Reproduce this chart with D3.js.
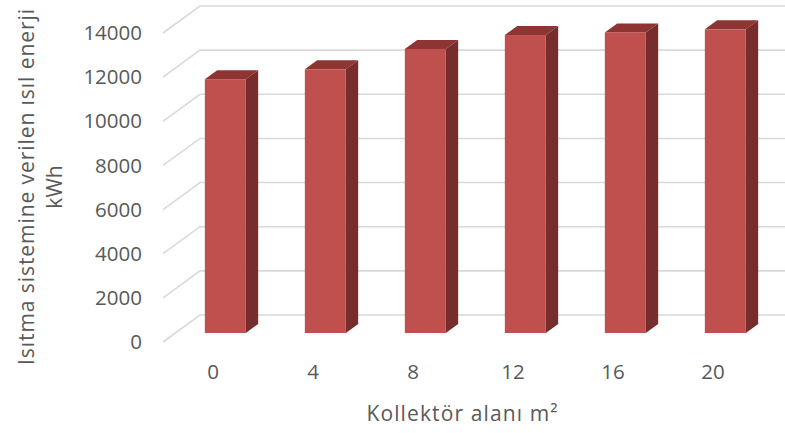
<!DOCTYPE html>
<html>
<head>
<meta charset="utf-8">
<script src="https://cdn.jsdelivr.net/npm/d3@7/dist/d3.min.js"></script>
<style>
  html, body { margin: 0; padding: 0; background: #ffffff; }
  svg { display: block; }
  text { font-family: "Open Sans", "DejaVu Sans", sans-serif; fill: #595959; }
</style>
</head>
<body>
<svg id="chart" width="785" height="433"></svg>
<script>
// Collector area (m²) and the heat delivered to the heating system (kWh)
const categories = ["0", "4", "8", "12", "16", "20"];
const energy = [11500, 11950, 12870, 13500, 13620, 13760];
const yTicks = [0, 2000, 4000, 6000, 8000, 10000, 12000, 14000];
const xTitle = "Kollektör alanı m²";
const yTitleLines = ["Isıtma sistemine verilen ısıl enerji", "kWh"];

const svg = d3.select("#chart");

// Front plane of the 3D plot box
const x = d3.scaleBand().domain(categories).range([163, 763]).paddingInner(0.59).paddingOuter(0.295);
const y = d3.scaleLinear().domain([0, 14000]).range([342, 33]);

// Depth of the box: offset from the front plane to the back wall
const depth = { dx: 37, dy: -27 };
// Bars sit in the middle third of the depth
const barFront = { dx: depth.dx / 3, dy: depth.dy / 3 };
const barBack = { dx: depth.dx * 2 / 3, dy: depth.dy * 2 / 3 };

// Gridlines: diagonal along the side wall, then across the back wall
const grid = svg.append("g").attr("fill", "none").attr("stroke", "#d9d9d9").attr("stroke-width", 1.6);
grid.selectAll("path").data(yTicks).join("path")
  .attr("d", d => {
    const x0 = x.range()[0], x1 = x.range()[1];
    return `M${x0},${y(d)}L${x0 + depth.dx},${y(d) + depth.dy}L${x1 + depth.dx},${y(d) + depth.dy}`;
  });

// Y tick labels
svg.append("g").selectAll("text").data(yTicks).join("text")
  .attr("x", 142).attr("y", d => y(d))
  .attr("dy", "0.35em")
  .attr("text-anchor", "end")
  .attr("font-size", 20.5)
  .text(d => d);

// X tick labels
svg.append("g").selectAll("text").data(categories).join("text")
  .attr("x", d => x(d) + x.bandwidth() / 2)
  .attr("y", 379)
  .attr("text-anchor", "middle")
  .attr("font-size", 20.5)
  .text(d => d);

// Bars: front face, top face, right side face
const bars = svg.append("g").selectAll("g").data(categories.map((c, i) => ({ c, v: energy[i] }))).join("g");
const w = x.bandwidth();

bars.append("path")
  .attr("fill", "#8e3533")
  .attr("d", d => {
    const xl = x(d.c), yt = y(d.v);
    return `M${xl + barFront.dx},${yt + barFront.dy}L${xl + w + barFront.dx},${yt + barFront.dy}` +
      `L${xl + w + barBack.dx},${yt + barBack.dy}L${xl + barBack.dx},${yt + barBack.dy}Z`;
  });

bars.append("path")
  .attr("fill", "#772d2b")
  .attr("d", d => {
    const xr = x(d.c) + w, yt = y(d.v), yb = y(0);
    return `M${xr + barFront.dx},${yt + barFront.dy}L${xr + barBack.dx},${yt + barBack.dy}` +
      `L${xr + barBack.dx},${yb + barBack.dy}L${xr + barFront.dx},${yb + barFront.dy}Z`;
  });

bars.append("rect")
  .attr("fill", "#c0504d")
  .attr("x", d => x(d.c) + barFront.dx)
  .attr("y", d => y(d.v) + barFront.dy)
  .attr("width", w)
  .attr("height", d => y(0) - y(d.v));

// Axis titles
svg.append("text")
  .attr("x", 462).attr("y", 421)
  .attr("text-anchor", "middle")
  .attr("font-size", 21)
  .attr("textLength", 191)
  .attr("lengthAdjust", "spacing")
  .text(xTitle);

const yTitle = svg.append("text")
  .attr("transform", "translate(34,187) rotate(-90)")
  .attr("text-anchor", "middle")
  .attr("font-size", 21);
yTitle.selectAll("tspan").data(yTitleLines).join("tspan")
  .attr("x", 0)
  .attr("dy", (d, i) => i === 0 ? 0 : 28)
  .attr("textLength", (d, i) => i === 0 ? 356 : null)
  .attr("lengthAdjust", "spacing")
  .text(d => d);
</script>
</body>
</html>
